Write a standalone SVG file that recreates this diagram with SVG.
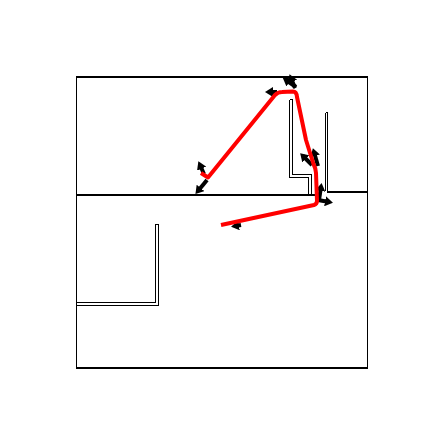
<svg xmlns="http://www.w3.org/2000/svg" width="442" height="442" viewBox="0 0 442 442">
<style>
.w{fill:none;stroke:#000;shape-rendering:crispEdges}
.t{stroke-width:2}
.n{stroke-width:1}
.a{fill:none;stroke:#000;stroke-width:4;marker-end:url(#h)}
.r{fill:none;stroke:#f00;stroke-width:4;stroke-linejoin:round;stroke-linecap:butt}
</style>
<defs>
<marker id="h" markerUnits="userSpaceOnUse" markerWidth="9" markerHeight="10" refX="4" refY="5" orient="auto">
<path d="M0 0L8 5L0 10Z" fill="#000"/>
</marker>
</defs>
<rect width="442" height="442" fill="#fff"/>
<g id="walls">
<path class="w t" d="M76 77H368M76 368H368"/>
<path class="w n" d="M76.500 77V368M367.500 77V368"/>
<path class="w t" d="M76 195H319M327 192H368"/>
<path class="w n" d="M289.500 99.500H292.500V174.500H311.500V195M289.500 99.500V177.500H308.500V195"/>
<path class="w n" d="M325.500 112.500H327.500V191M325.500 112.500V191"/>
<path class="w n" d="M76 302.500H155.500V224.500H158.500V305.500H76"/>
</g>
<g id="connectors">
<path class="a" d="M207 180L198 191"/>
<path class="a" d="M204 174L200 165"/>
<path class="a" d="M277 92H269"/>
<path class="a" d="M296 87L286 80"/>
<path class="a" d="M295 88L291 78"/>
<path class="a" d="M312 165L303 156"/>
<path class="a" d="M318 166L314 152"/>
<path class="a" d="M319 200L321 187"/>
<path class="a" d="M318 200L329 202"/>
<path class="a" d="M241 225L235 226"/>
<path class="r" d="M221 225L314 205Q317 204 317 201L316 173Q316 169 313.500 164L306 140L297 97Q296.500 91.500 293 91.500L282 92Q278 92 275 95L208 177.500L201 173"/>
</g>
</svg>
